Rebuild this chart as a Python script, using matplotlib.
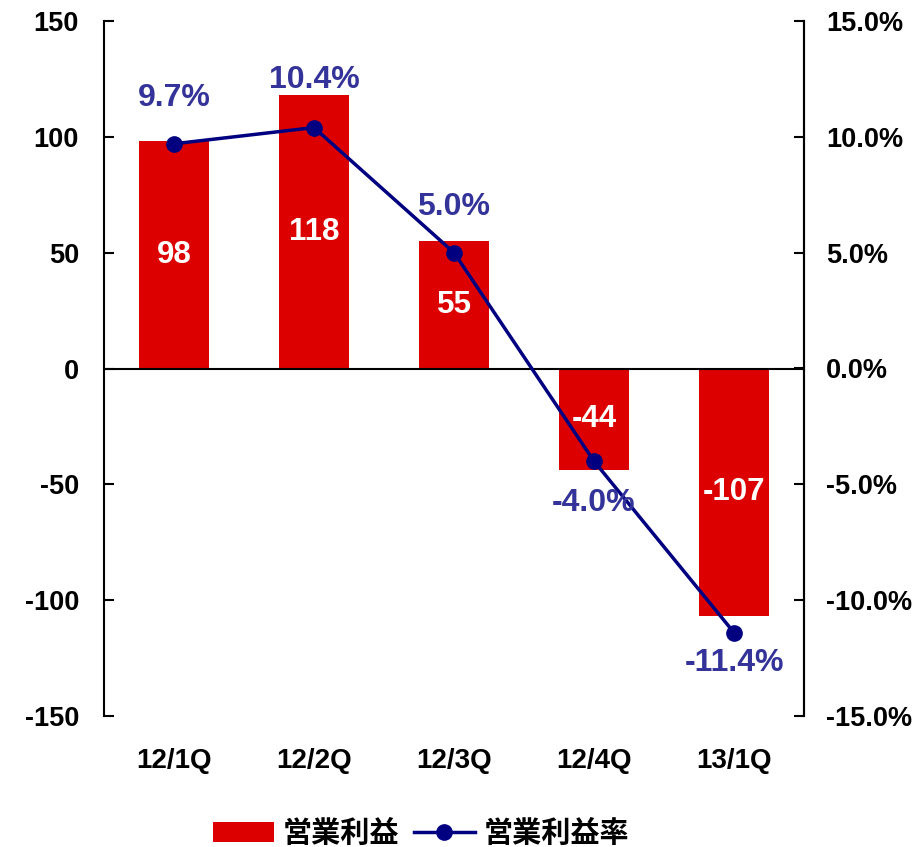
import matplotlib
matplotlib.use("Agg")
import matplotlib.pyplot as plt
from matplotlib.lines import Line2D
from matplotlib.patches import Patch

categories = ["12/1Q", "12/2Q", "12/3Q", "12/4Q", "13/1Q"]
profit = [98, 118, 55, -44, -107]
margin = [9.7, 10.4, 5.0, -4.0, -11.4]
left_ticks = [-150, -100, -50, 0, 50, 100, 150]
right_ticks = [-15, -10, -5, 0, 5, 10, 15]
bar_name = "営業利益"
line_name = "営業利益率"

plt.rcParams['font.family'] = ['Liberation Sans', 'Noto Sans CJK JP', 'DejaVu Sans']
plt.rcParams['font.weight'] = 'bold'

fig = plt.figure(figsize=(9.18, 8.47), dpi=100)
ax = fig.add_axes([104/918, 1-716/847, 700/918, 695/847])
ax2 = ax.twinx()

x = list(range(len(categories)))
bars = ax.bar(x, profit, width=0.5, color="#DD0000", zorder=2)
ax.axhline(0, color="black", lw=1.5, zorder=3)
ax.set_xlim(-0.5, len(categories) - 0.5)
ax.set_ylim(-150, 150)
ax.set_yticks(left_ticks)
ax.set_yticklabels([str(v) for v in left_ticks])
ax.set_xticks(x)
ax.set_xticklabels(categories)
ax.tick_params(axis='x', length=0, pad=23, labelsize=20)
ax.tick_params(axis='y', direction='in', length=7, width=1.5, labelsize=19.5, pad=18)
for s in ['top', 'bottom']:
    ax.spines[s].set_visible(False)
for s in ['left', 'right']:
    ax.spines[s].set_linewidth(1.5)

for xi, v in zip(x, profit):
    ax.text(xi, v / 2, str(v), color="white", ha="center", va="center",
            fontsize=22.5, fontweight="bold", zorder=4)

ax2.plot(x, margin, color="#000080", lw=2.5, marker="o", markersize=11, zorder=5)
ax2.set_ylim(-15, 15)
ax2.set_yticks(right_ticks)
ax2.set_yticklabels([f"{v:.1f}%" for v in right_ticks])
ax2.tick_params(axis='y', direction='in', length=7, width=1.5, labelsize=19.5, pad=16)
for s in ['top', 'bottom', 'left']:
    ax2.spines[s].set_visible(False)
ax2.spines['right'].set_linewidth(1.5)

offsets = [33, 34, 33, -30, -22]
for xi, m, off in zip(x, margin, offsets):
    ax2.annotate(f"{m:.1f}%", (xi, m), xytext=(0, off), textcoords="offset points",
                 ha="center", va="center", color="#333399", fontsize=23,
                 fontweight="bold", zorder=6)

handles = [Patch(facecolor="#DD0000", edgecolor="none"),
           Line2D([0], [0], color="#000080", lw=2.5, marker="o", markersize=11)]
fig.legend(handles, [bar_name, line_name], loc="center", bbox_to_anchor=(421/918, 1-833/847),
           ncol=2, frameon=False, prop={'family': ['Noto Sans CJK JP'], 'weight': 'bold', 'size': 21},
           handlelength=2.1, handletextpad=0.3, columnspacing=0.5)

fig.savefig("out.png", dpi=100)
